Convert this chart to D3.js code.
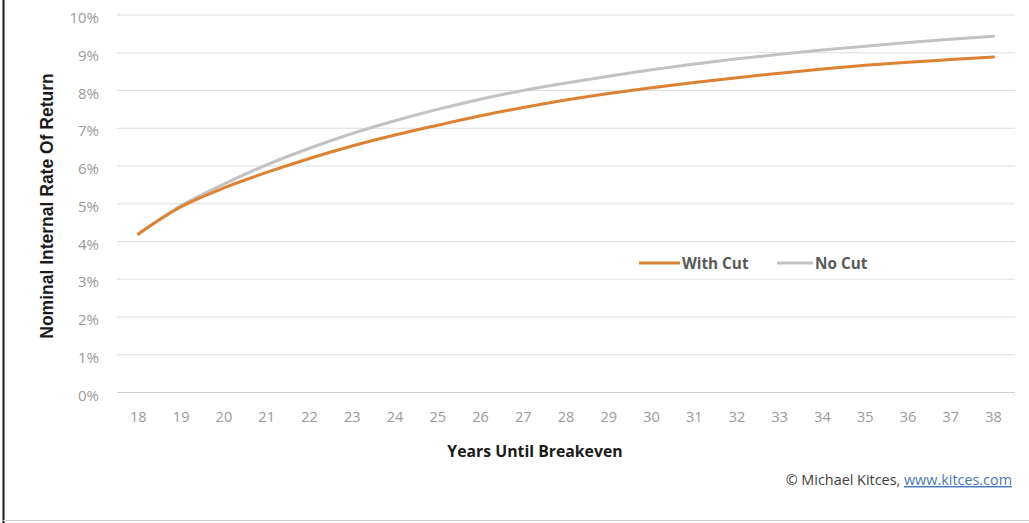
<!DOCTYPE html>
<html>
<head>
<meta charset="utf-8">
<script src="https://cdn.jsdelivr.net/npm/d3@7"></script>
<style>
  html, body { margin: 0; padding: 0; background: #fff; }
  svg { display: block; }
</style>
</head>
<body>
<svg id="chart" width="1029" height="523"></svg>
<script>
// Years until breakeven (category axis)
const years = [18, 19, 20, 21, 22, 23, 24, 25, 26, 27, 28, 29, 30, 31, 32, 33, 34, 35, 36, 37, 38];

// Nominal internal rate of return, in percent
const withCut = [4.2, 4.92, 5.42, 5.83, 6.2, 6.53, 6.82, 7.08, 7.33, 7.55, 7.75, 7.92, 8.07, 8.21, 8.34, 8.46, 8.57, 8.67, 8.75, 8.82, 8.89];
const noCut   = [4.2, 4.95, 5.52, 6.03, 6.47, 6.86, 7.2, 7.5, 7.77, 8.0, 8.2, 8.38, 8.55, 8.7, 8.84, 8.96, 9.07, 9.17, 9.27, 9.36, 9.44];

const yTicks = [0, 1, 2, 3, 4, 5, 6, 7, 8, 9, 10];
const seriesNames = ["With Cut", "No Cut"];
const seriesColors = ["#DC8232", "#C4C2C0"];

const svg = d3.select("#chart");

const plot = { left: 117, right: 1015, top: 15, bottom: 392.5 };

const x = d3.scaleBand()
  .domain(years)
  .range([plot.left, plot.right]);

const y = d3.scaleLinear()
  .domain([0, 10])
  .range([plot.bottom, plot.top]);

// Frame edges
svg.append("line")
  .attr("x1", 3.5).attr("x2", 3.5).attr("y1", 0).attr("y2", 523)
  .attr("stroke", "#1a1a1a").attr("stroke-width", 2);
svg.append("line")
  .attr("x1", 3).attr("x2", 1029).attr("y1", 520.5).attr("y2", 520.5)
  .attr("stroke", "#d4d4d4").attr("stroke-width", 1);

// Horizontal gridlines
svg.append("g")
  .selectAll("line")
  .data(yTicks)
  .join("line")
  .attr("x1", plot.left).attr("x2", plot.right)
  .attr("y1", d => y(d)).attr("y2", d => y(d))
  .attr("stroke", d => d === 0 ? "#d0d0d0" : "#dedede")
  .attr("stroke-width", 1.2);

// Y axis labels
const yAxis = d3.axisLeft(y)
  .tickValues(yTicks)
  .tickFormat(d => d + "%")
  .tickSize(0)
  .tickPadding(0);
const yg = svg.append("g")
  .attr("transform", `translate(99,0)`)
  .call(yAxis);
yg.select(".domain").remove();
yg.selectAll("text")
  .attr("font-family", "'Open Sans', sans-serif")
  .attr("font-size", 15)
  .attr("fill", "#9a9a9a")
  .attr("dy", "0.5em");

// X axis labels
const xAxis = d3.axisBottom(x).tickSize(0).tickPadding(0);
const xg = svg.append("g")
  .attr("transform", `translate(0,${plot.bottom + 19})`)
  .call(xAxis);
xg.select(".domain").remove();
xg.selectAll("text")
  .attr("font-family", "'Open Sans', sans-serif")
  .attr("font-size", 14.5)
  .attr("fill", "#9a9a9a");

// Axis titles
svg.append("text")
  .attr("x", 535).attr("y", 457)
  .attr("text-anchor", "middle")
  .attr("font-family", "'Open Sans', sans-serif")
  .attr("font-weight", "bold")
  .attr("font-size", 15.8)
  .attr("fill", "#1a1a1a")
  .text("Years Until Breakeven");

svg.append("text")
  .attr("transform", "translate(53,206) rotate(-90)")
  .attr("text-anchor", "middle")
  .attr("font-family", "'Liberation Sans', Arial, sans-serif")
  .attr("font-weight", "bold")
  .attr("font-size", 17.5)
  .attr("fill", "#1a1a1a")
  .text("Nominal Internal Rate Of Return");

// Series lines
const line = d3.line()
  .x((d, i) => x(years[i]) + x.bandwidth() / 2)
  .y(d => y(d))
  .curve(d3.curveCatmullRom.alpha(0.5));

const series = [noCut, withCut];
const order = [1, 0];
svg.append("g")
  .selectAll("path")
  .data(series)
  .join("path")
  .attr("d", d => line(d))
  .attr("fill", "none")
  .attr("stroke", (d, i) => seriesColors[order[i]])
  .attr("stroke-width", 3)
  .attr("stroke-linecap", "round");

// Legend
const legendItems = [
  { name: seriesNames[0], color: seriesColors[0], x0: 639, x1: 680 },
  { name: seriesNames[1], color: seriesColors[1], x0: 777, x1: 813 }
];
const lg = svg.append("g");
legendItems.forEach(it => {
  lg.append("line")
    .attr("x1", it.x0).attr("x2", it.x1)
    .attr("y1", 263).attr("y2", 263)
    .attr("stroke", it.color).attr("stroke-width", 3);
  lg.append("text")
    .attr("x", it.x1 + 2).attr("y", 268.5)
    .attr("font-family", "'Open Sans', sans-serif")
    .attr("font-weight", "bold")
    .attr("font-size", 15.3)
    .attr("fill", "#595959")
    .text(it.name);
});

// Credit line
const credit = svg.append("text")
  .attr("x", 1012).attr("y", 485)
  .attr("text-anchor", "end")
  .attr("font-family", "'Open Sans', sans-serif")
  .attr("font-size", 14.4)
  .attr("fill", "#404040");
credit.append("tspan").text("© Michael Kitces, ");
credit.append("tspan")
  .attr("fill", "#4a78b8")
  .attr("text-decoration", "underline")
  .text("www.kitces.com");
</script>
</body>
</html>
